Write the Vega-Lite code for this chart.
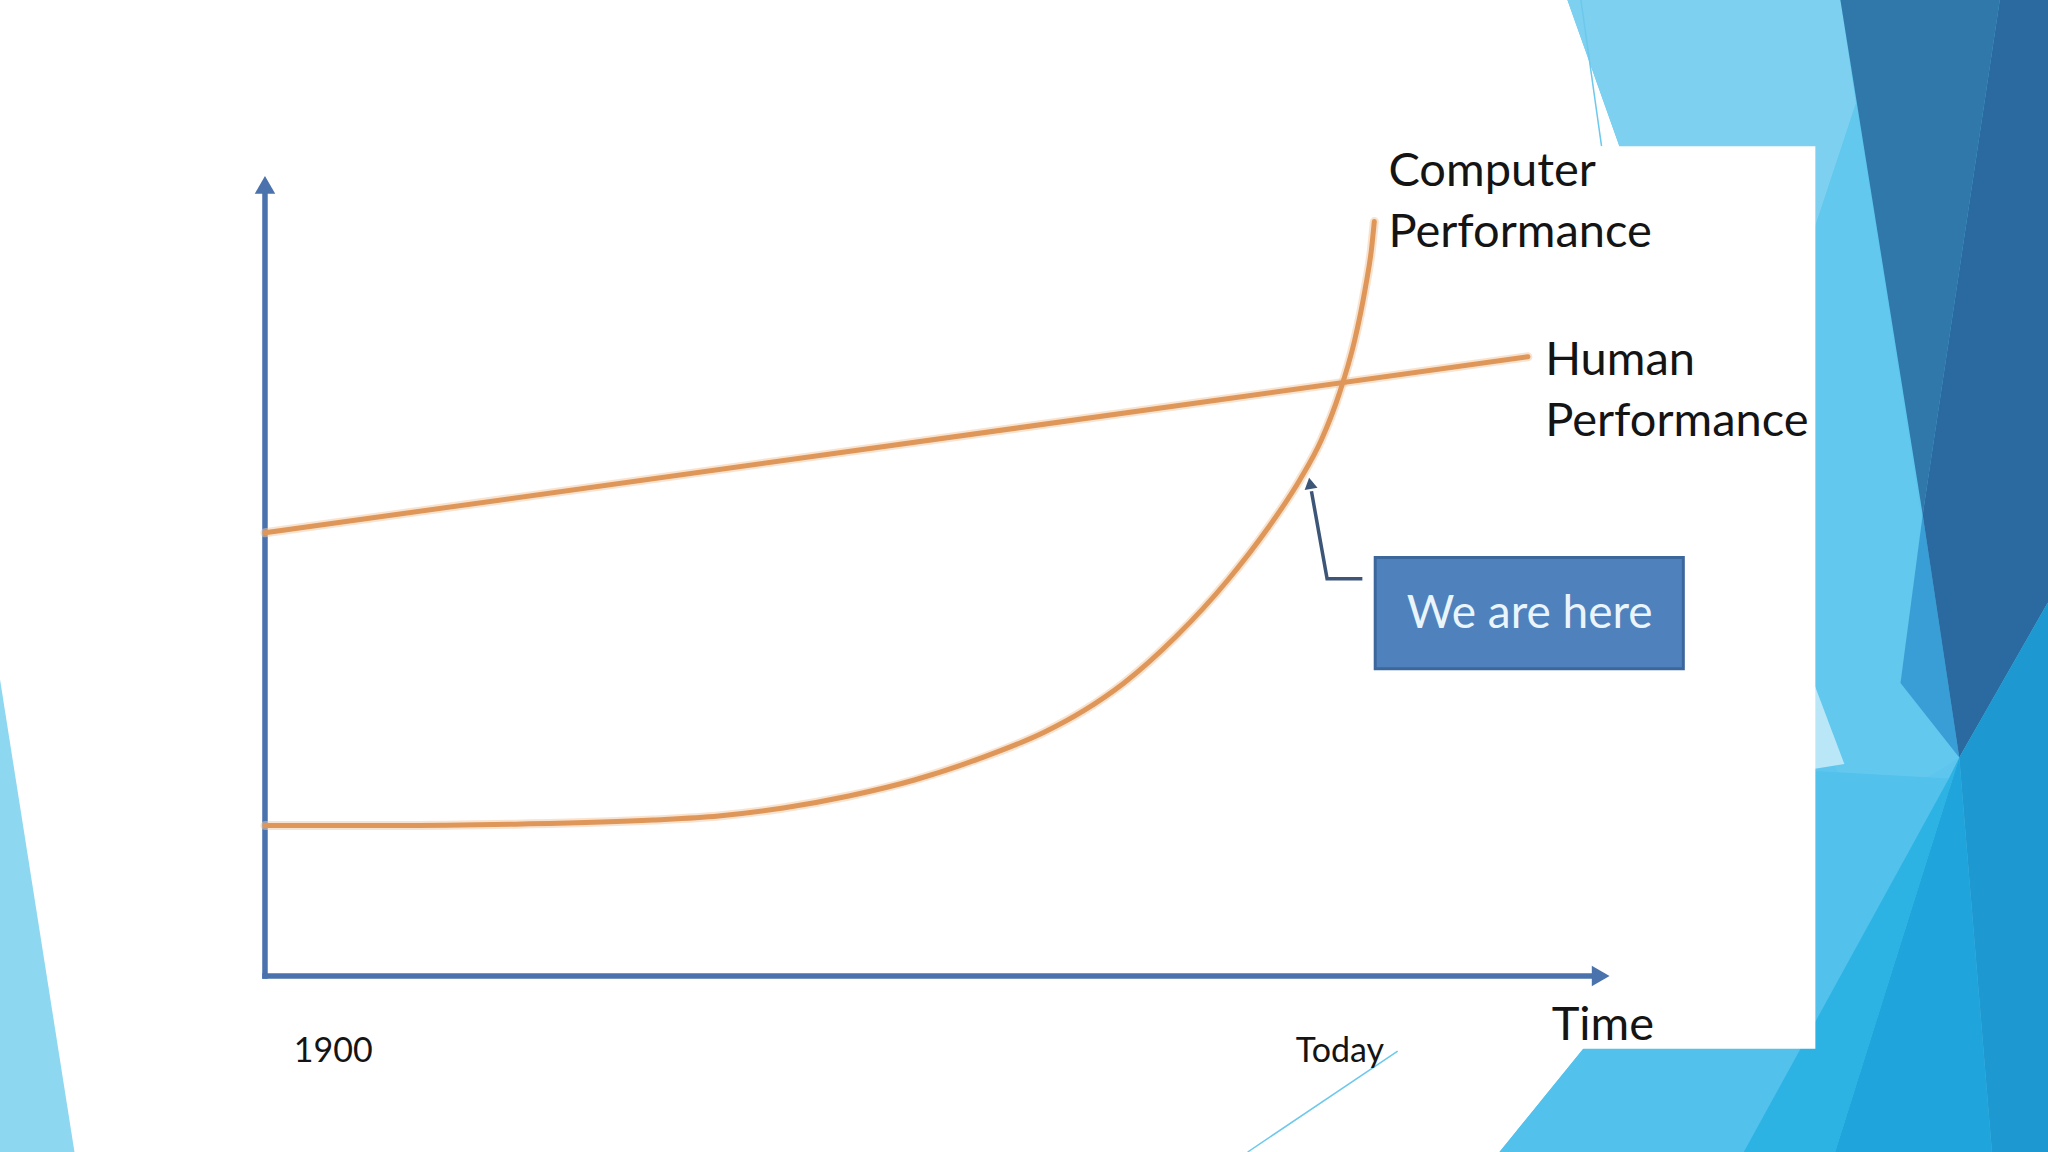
{
  "$schema": "https://vega.github.io/schema/vega-lite/v6.json",
  "width": 2048,
  "height": 1152,
  "autosize": {"type": "none"},
  "padding": 0,
  "background": "#ffffff",
  "config": {"view": {"stroke": null}},
  "datasets": {
    "decor": [
      {"shape": "base", "i": 1, "x": 2045.0, "y": 122},
      {"shape": "base", "i": 2, "x": 2098.5, "y": 122},
      {"shape": "base", "i": 3, "x": 2098.5, "y": -22},
      {"shape": "base", "i": 4, "x": 2037.43, "y": -22},
      {"shape": "base", "i": 5, "x": 2071.9, "y": 25.67},
      {"shape": "base", "i": 6, "x": 2071.17, "y": 40.37},
      {"shape": "base", "i": 7, "x": 2063.6, "y": 63.22},
      {"shape": "l1", "i": 1, "x": 2045.0, "y": 122},
      {"shape": "l1", "i": 2, "x": 2075.39, "y": 122},
      {"shape": "l1", "i": 3, "x": 2077.13, "y": 109.1},
      {"shape": "l1", "i": 4, "x": 2063.6, "y": 63.22},
      {"shape": "l2", "i": 1, "x": 2077.13, "y": 109.1},
      {"shape": "l2", "i": 2, "x": 2088.62, "y": 27.31},
      {"shape": "l2", "i": 3, "x": 2076.99, "y": 19.14},
      {"shape": "l2", "i": 4, "x": 2063.6, "y": 63.22},
      {"shape": "p", "i": 1, "x": 2071.17, "y": 40.37},
      {"shape": "p", "i": 2, "x": 2075.83, "y": 26.49},
      {"shape": "p", "i": 3, "x": 2071.17, "y": 25.67},
      {"shape": "q", "i": 1, "x": 2084.55, "y": 57.67},
      {"shape": "q", "i": 2, "x": 2088.62, "y": 27.31},
      {"shape": "q", "i": 3, "x": 2082.08, "y": 36.61},
      {"shape": "dl", "i": 1, "x": 2075.39, "y": 122},
      {"shape": "dl", "i": 2, "x": 2093.13, "y": 122},
      {"shape": "dl", "i": 3, "x": 2084.55, "y": 57.67},
      {"shape": "dd", "i": 1, "x": 2093.13, "y": 122},
      {"shape": "dd", "i": 2, "x": 2098.5, "y": 122},
      {"shape": "dd", "i": 3, "x": 2098.5, "y": 46.73},
      {"shape": "dd", "i": 4, "x": 2088.62, "y": 27.31},
      {"shape": "dd", "i": 5, "x": 2084.55, "y": 57.67},
      {"shape": "b1", "i": 1, "x": 2037.43, "y": -22},
      {"shape": "b1", "i": 2, "x": 2071.9, "y": 25.67},
      {"shape": "b1", "i": 3, "x": 2087.46, "y": 24.69},
      {"shape": "b1", "i": 4, "x": 2064.63, "y": -22},
      {"shape": "b2", "i": 1, "x": 2064.63, "y": -22},
      {"shape": "b2", "i": 2, "x": 2087.46, "y": 24.69},
      {"shape": "b2", "i": 3, "x": 2088.62, "y": 27.31},
      {"shape": "b2", "i": 4, "x": 2074.8, "y": -22},
      {"shape": "m", "i": 1, "x": 2088.62, "y": 27.31},
      {"shape": "m", "i": 2, "x": 2092.26, "y": -22},
      {"shape": "m", "i": 3, "x": 2074.8, "y": -22},
      {"shape": "m2", "i": 1, "x": 2088.62, "y": 27.31},
      {"shape": "m2", "i": 2, "x": 2098.5, "y": 46.73},
      {"shape": "m2", "i": 3, "x": 2098.5, "y": -22},
      {"shape": "m2", "i": 4, "x": 2092.26, "y": -22},
      {"shape": "left", "i": 1, "x": 1870.5, "y": 37.1},
      {"shape": "left", "i": 2, "x": 1878.79, "y": -22},
      {"shape": "left", "i": 3, "x": 1870.5, "y": -22}
    ],
    "thin": [
      {"x": 2046.5, "y": 122, "x2": 2048.8, "y2": 103.7},
      {"x": 2009.4, "y": -22, "x2": 2026.1, "y2": -9.4}
    ],
    "panel": [
      {"x": 1885.0, "y": 103.71, "x2": 2072.6, "y2": -9.1}
    ],
    "axes": [
      {"x": 1900, "y": 0, "x2": 1900, "y2": 97.6},
      {"x": 1900, "y": 0, "x2": 2048.0, "y2": 0}
    ],
    "arrows": [
      {"x": 1900, "y": 98.9, "a": 0},
      {"x": 2048.7, "y": 0, "a": 90}
    ],
    "series": [
      {"s": "Human", "x": 1900, "y": 55.4},
      {"s": "Human", "x": 2040.6, "y": 77.4},
      {"s": "Computer", "x": 1900, "y": 18.8},
      {"s": "Computer", "x": 1914.1, "y": 18.8},
      {"s": "Computer", "x": 1928.7, "y": 19.0},
      {"s": "Computer", "x": 1943.2, "y": 19.5},
      {"s": "Computer", "x": 1950.5, "y": 20.0},
      {"s": "Computer", "x": 1957.7, "y": 21.0},
      {"s": "Computer", "x": 1965.0, "y": 22.5},
      {"s": "Computer", "x": 1972.3, "y": 24.5},
      {"s": "Computer", "x": 1979.6, "y": 27.2},
      {"s": "Computer", "x": 1986.8, "y": 30.5},
      {"s": "Computer", "x": 1991.2, "y": 33.2},
      {"s": "Computer", "x": 1995.6, "y": 36.6},
      {"s": "Computer", "x": 2001.4, "y": 42.4},
      {"s": "Computer", "x": 2007.2, "y": 49.5},
      {"s": "Computer", "x": 2011.6, "y": 55.9},
      {"s": "Computer", "x": 2015.2, "y": 62.0},
      {"s": "Computer", "x": 2017.6, "y": 67.0},
      {"s": "Computer", "x": 2019.6, "y": 72.8},
      {"s": "Computer", "x": 2021.3, "y": 79.4},
      {"s": "Computer", "x": 2022.5, "y": 86.0},
      {"s": "Computer", "x": 2023.2, "y": 91.0},
      {"s": "Computer", "x": 2023.5, "y": 94.3}
    ],
    "connector": [
      {"i": 1, "x": 2022.17, "y": 49.67},
      {"i": 2, "x": 2018.24, "y": 49.67},
      {"i": 3, "x": 2016.5, "y": 60.6}
    ],
    "connectorHead": [
      {"x": 2016.35, "y": 61.6, "a": 350}
    ],
    "box": [
      {"x": 2023.6, "y": 52.3, "x2": 2057.9, "y2": 38.4, "text": "We are here", "cx": 2040.8, "cy": 45.3}
    ],
    "bigLabels": [
      {"x": 2025.07, "y": 98.8, "text": "Computer\nPerformance"},
      {"x": 2042.52, "y": 75.1, "text": "Human\nPerformance"},
      {"x": 2043.25, "y": -8.0, "text": "Time"}
    ],
    "smallLabels": [
      {"x": 1903.2, "y": -10.7, "text": "1900"},
      {"x": 2014.75, "y": -10.7, "text": "Today"}
    ]
  },
  "encoding": {
    "x": {"field": "x", "type": "quantitative", "scale": {"domain": [1870.5, 2098.5], "nice": false, "zero": false}, "axis": null},
    "y": {"field": "y", "type": "quantitative", "scale": {"domain": [-22, 122], "nice": false, "zero": false}, "axis": null}
  },
  "layer": [
    {
      "data": {"name": "decor"},
      "mark": {"type": "line", "filled": true, "interpolate": "linear-closed", "strokeWidth": 0},
      "encoding": {
        "detail": {"field": "shape", "type": "nominal"},
        "order": {"field": "i", "type": "quantitative"},
        "color": {"field": "shape", "type": "nominal", "legend": null,
          "scale": {"domain": ["base", "l1", "l2", "p", "q", "dl", "dd", "b1", "b2", "m", "m2", "left"],
                    "range": ["#5ec6ee", "#7dd0ef", "#63c8ee", "#b9e7f7", "#3a9ed6", "#3077aa", "#2a6aa0", "#52c1eb", "#2cb3e4", "#1fa5dc", "#1e98d0", "#8dd7f1"]}}
      }
    },
    {
      "data": {"name": "thin"},
      "mark": {"type": "rule", "color": "#6cc8ec", "strokeWidth": 1.5},
      "encoding": {"x2": {"field": "x2"}, "y2": {"field": "y2"}}
    },
    {
      "data": {"name": "panel"},
      "mark": {"type": "rect", "color": "#ffffff"},
      "encoding": {"x2": {"field": "x2"}, "y2": {"field": "y2"}}
    },
    {
      "data": {"name": "axes"},
      "mark": {"type": "rule", "color": "#4a72ad", "strokeWidth": 5.5, "strokeCap": "square"},
      "encoding": {"x2": {"field": "x2"}, "y2": {"field": "y2"}}
    },
    {
      "data": {"name": "arrows"},
      "mark": {"type": "point", "shape": "triangle-up", "filled": true, "color": "#4a72ad", "size": 420, "opacity": 1},
      "encoding": {"angle": {"field": "a", "type": "quantitative", "scale": null}}
    },
    {
      "data": {"name": "series"},
      "mark": {"type": "line", "interpolate": "monotone", "color": "#f2c7a2", "strokeWidth": 9, "opacity": 0.5, "strokeCap": "round"},
      "encoding": {"detail": {"field": "s", "type": "nominal"}}
    },
    {
      "data": {"name": "series"},
      "mark": {"type": "line", "interpolate": "monotone", "color": "#df9659", "strokeWidth": 5, "strokeCap": "round"},
      "encoding": {"detail": {"field": "s", "type": "nominal"}}
    },
    {
      "data": {"name": "connector"},
      "mark": {"type": "line", "color": "#3d5577", "strokeWidth": 3.5},
      "encoding": {"order": {"field": "i", "type": "quantitative"}}
    },
    {
      "data": {"name": "connectorHead"},
      "mark": {"type": "point", "shape": "triangle-up", "filled": true, "color": "#3d5577", "size": 170, "opacity": 1},
      "encoding": {"angle": {"field": "a", "type": "quantitative", "scale": null}}
    },
    {
      "data": {"name": "box"},
      "mark": {"type": "rect", "fill": "#4f81bd", "stroke": "#3b679c", "strokeWidth": 3},
      "encoding": {"x2": {"field": "x2"}, "y2": {"field": "y2"}}
    },
    {
      "data": {"name": "box"},
      "mark": {"type": "text", "font": "Lato", "fontSize": 46, "color": "#eaf5fb", "align": "center", "baseline": "middle"},
      "encoding": {
        "x": {"field": "cx", "type": "quantitative"},
        "y": {"field": "cy", "type": "quantitative"},
        "text": {"field": "text"}
      }
    },
    {
      "data": {"name": "bigLabels"},
      "mark": {"type": "text", "font": "Lato", "fontSize": 47, "color": "#141414", "align": "left", "baseline": "alphabetic", "lineBreak": "\n", "lineHeight": 61},
      "encoding": {"text": {"field": "text"}}
    },
    {
      "data": {"name": "smallLabels"},
      "mark": {"type": "text", "font": "Lato", "fontSize": 34, "color": "#141414", "align": "left", "baseline": "alphabetic"},
      "encoding": {"text": {"field": "text"}}
    }
  ]
}
